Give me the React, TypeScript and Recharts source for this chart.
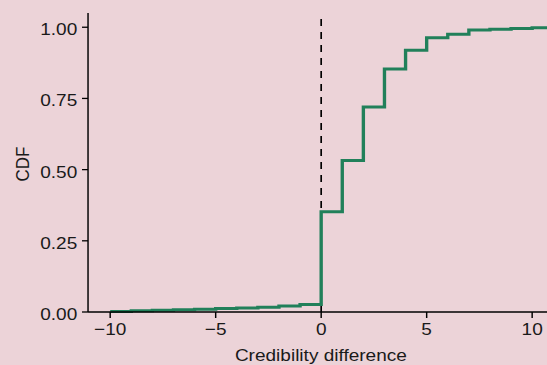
import { Label, Line, LineChart, ReferenceLine, XAxis, YAxis } from "recharts";

// credibility difference (integer steps) and the empirical CDF at each step
const diffs = [-10, -9, -8, -7, -6, -5, -4, -3, -2, -1, 0, 1, 2, 3, 4, 5, 6, 7, 8, 9, 10, 11];
const cdf = [
  0.002, 0.004, 0.006, 0.008, 0.01, 0.012, 0.014, 0.017, 0.021, 0.026,
  0.352, 0.532, 0.72, 0.853, 0.919, 0.963, 0.975, 0.99, 0.993, 0.996, 0.998, 1.0,
];
const xTicks = [-10, -5, 0, 5, 10];
const yTicks = [0, 0.25, 0.5, 0.75, 1];

const data = diffs.map((x, i) => ({ x, cdf: cdf[i] }));

const FONT = "'Liberation Sans', Arial, Helvetica, sans-serif";
const INK = "#1a1a1a";
const SX = 1.12; // the reference is drawn slightly wider than tall

const fmtX = (v: number) => (v < 0 ? `\u2212${Math.abs(v)}` : `${v}`);

function CdfLabel({ viewBox }: any) {
  const cx = 20.3;
  const cy = 164;
  return (
    <text
      x={cx}
      y={cy}
      transform={`rotate(-90, ${cx}, ${cy})`}
      textAnchor="middle"
      dominantBaseline="central"
      fontFamily={FONT}
      fontSize={17}
      fill={INK}
    >
      CDF
    </text>
  );
}

export default function App() {
  return (
    <div
      style={{
        position: "absolute",
        left: 0,
        top: 0,
        width: 547,
        height: 365,
        overflow: "hidden",
        background: "#ecd3d8",
      }}
    >
      <div style={{ transform: `scaleX(${SX})`, transformOrigin: "0 0" }}>
        <LineChart
          width={510}
          height={365}
          data={data}
          margin={{ top: 13, right: 6.6, left: 0, bottom: 0 }}
          style={{ fontFamily: FONT }}
        >
          <XAxis
            type="number"
            dataKey="x"
            domain={[-11.05, 11.5]}
            allowDataOverflow
            ticks={xTicks}
            tickFormatter={fmtX}
            height={53}
            tickSize={6}
            tickMargin={5}
            stroke="#000"
            strokeWidth={1.3}
            tick={{ fill: INK, fontSize: 17 }}
          >
            <Label
              value="Credibility difference"
              position="insideBottom"
              offset={4}
              dx={-4.5}
              fill={INK}
              fontSize={17}
            />
          </XAxis>
          <YAxis
            type="number"
            domain={[0, 1.05]}
            ticks={yTicks}
            tickFormatter={(v: number) => v.toFixed(2)}
            width={78.6}
            tickSize={5.4}
            tickMargin={4.2}
            stroke="#000"
            strokeWidth={1.3}
            tick={{ fill: INK, fontSize: 17, dy: 2 }}
          >
            <Label content={<CdfLabel />} />
          </YAxis>
          <ReferenceLine x={0} stroke="#000" strokeWidth={1.5} strokeDasharray="7 6" />
          <Line
            type="stepAfter"
            dataKey="cdf"
            stroke="#21805a"
            strokeWidth={3}
            dot={false}
            activeDot={false}
            isAnimationActive={false}
          />
        </LineChart>
      </div>
    </div>
  );
}
